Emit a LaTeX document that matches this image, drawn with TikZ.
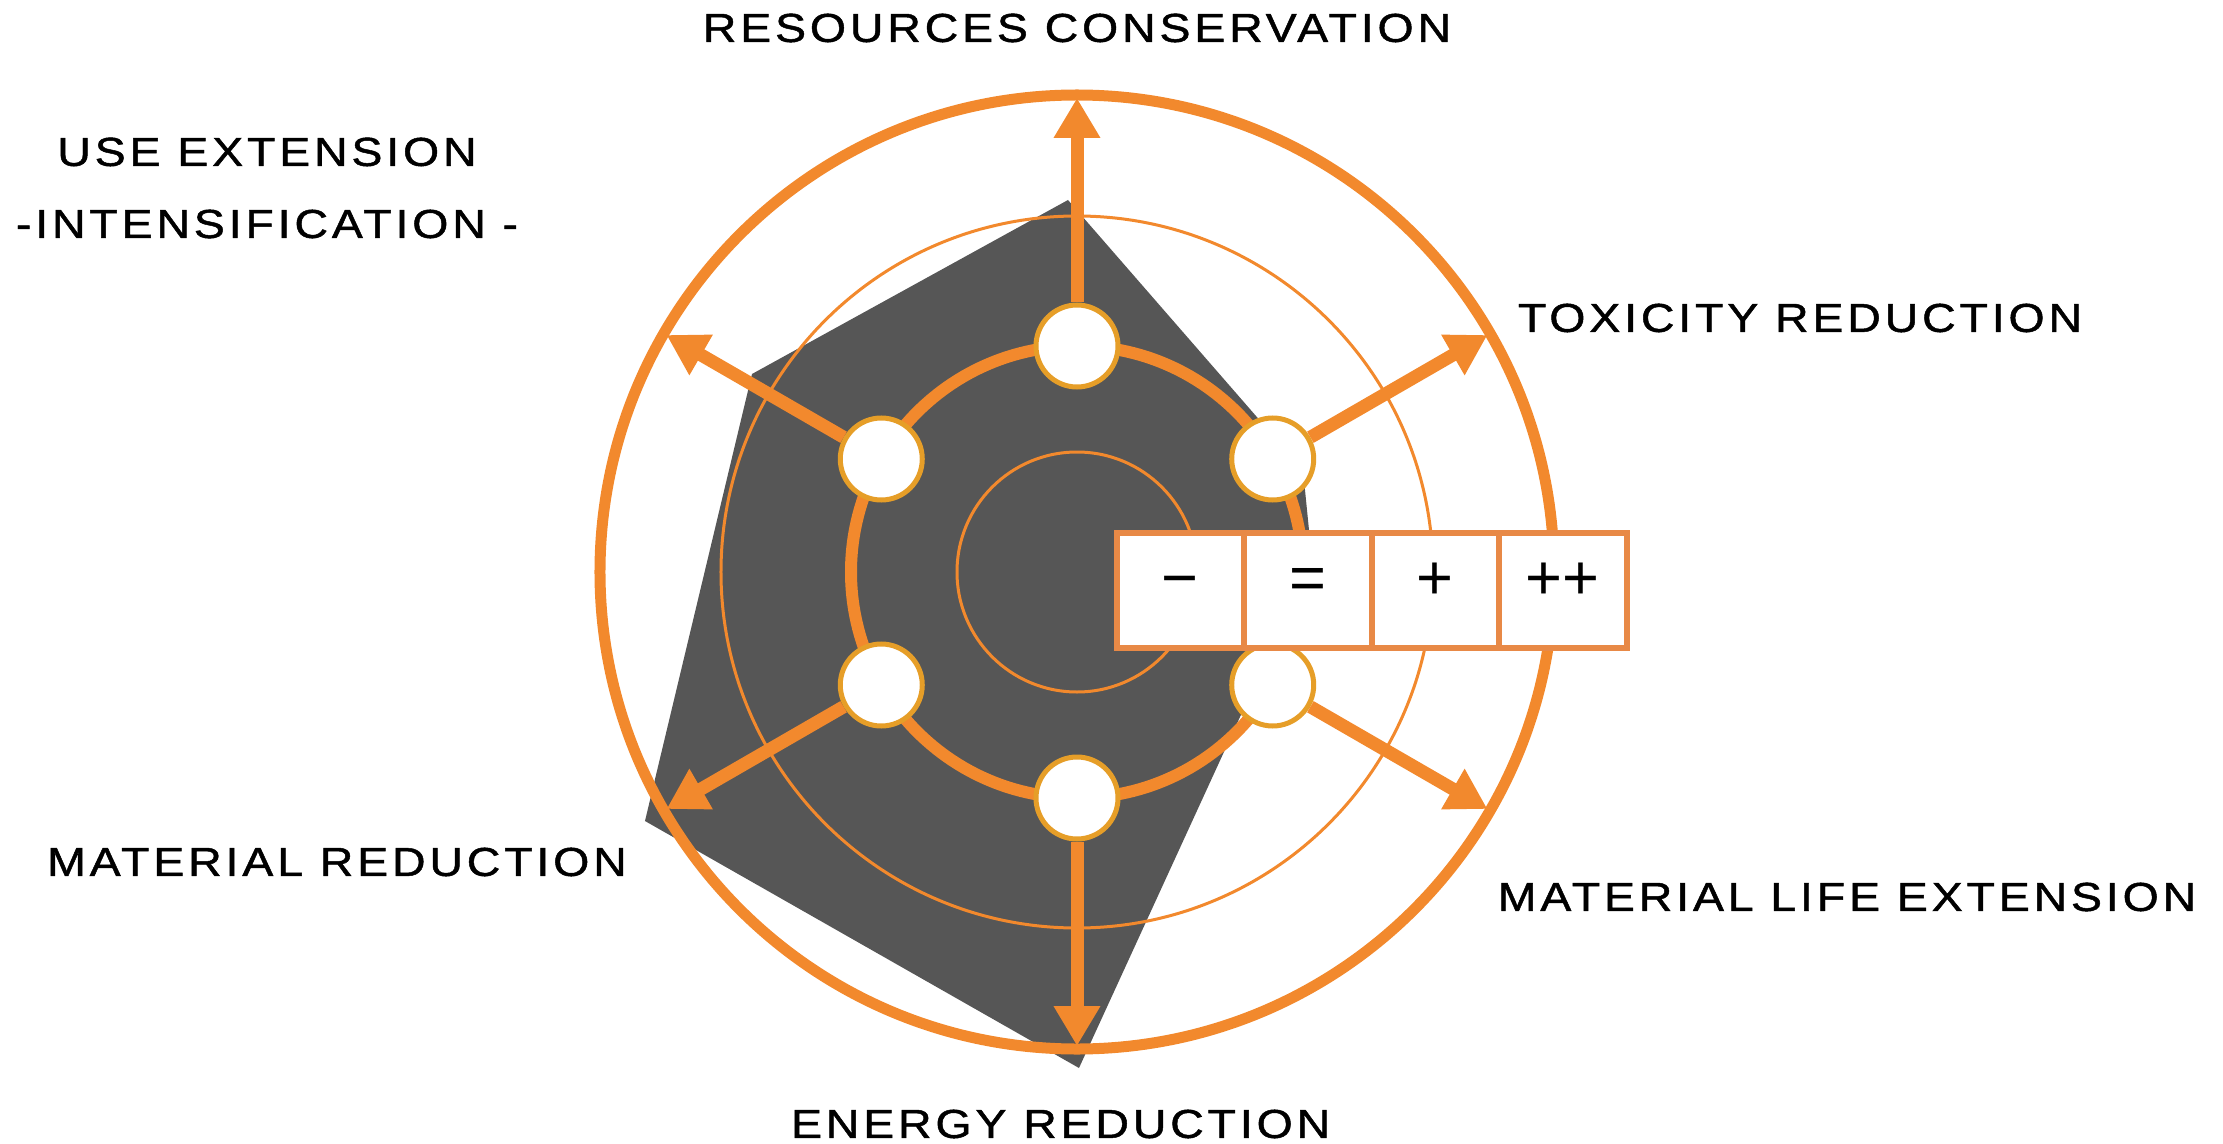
\documentclass[tikz,border=0pt]{standalone}
\usepackage{fontspec}
\setmainfont{Liberation Sans}
\newfontfamily\labelfont[FakeStretch=1.15,LetterSpace=9.5,FakeBold=1.2]{Liberation Sans}
\usetikzlibrary{arrows.meta,positioning}

\definecolor{ringorange}{RGB}{242,137,45}
\definecolor{nodegold}{RGB}{230,158,40}
\definecolor{boxorange}{RGB}{232,137,70}
\definecolor{padgray}{RGB}{86,86,86}

\tikzset{
  ringnode/.style={circle, fill=white, draw=nodegold, line width=0.05cm, minimum size=0.82cm, inner sep=0pt},
  axisarrow/.style={ringorange, line width=0.13cm, -{Triangle[width=0.44cm,length=0.40cm]}},
  caption/.style={font=\labelfont\fontsize{11.5}{20.5}\selectfont, align=center},
  scorecell/.style={draw=boxorange, fill=white, line width=0.06cm, minimum width=1.275cm, minimum height=1.15cm,
    outer sep=0pt, inner sep=0pt, text height=3mm, text depth=1.2mm, font=\fontsize{18}{18}\selectfont}
}

\begin{document}
\begin{tikzpicture}
\useasboundingbox (-10.77,-5.71) rectangle (11.46,5.72);

% profile
\fill[padgray] (-0.09,3.72) -- (2.26,1.02) -- (2.35,0.12) -- (0.02,-4.96) -- (-4.32,-2.49) -- (-3.25,1.98) -- cycle;

% rings
\draw[ringorange, line width=0.03cm] (0,0) circle[radius=1.20cm] (0,0) circle[radius=3.56cm];
\draw[ringorange, line width=0.11cm] (0,0) circle[radius=4.77cm];
\draw[ringorange, line width=0.12cm] (0,0) circle[radius=2.26cm];

% axes
\foreach \ang/\nm in {90/res, 30/tox, -30/life, -90/energy, -150/mat, 150/use} {
    \node[ringnode] (n\nm) at (\ang:2.26) {};
    \coordinate (t\nm) at (\ang:4.74);
    \draw[axisarrow] (n\nm) -- (t\nm);
}

% scale
\node[scorecell] (cminus) at (1.0325,-0.18) {−};
\node[scorecell, right=0pt of cminus] (ceq) {=};
\node[scorecell, right=0pt of ceq] (cplus) {+};
\node[scorecell, right=0pt of cplus] (cplusplus) {++};

% labels
\foreach \pos/\nm/\txt in {
    {(0,5.44)}/res/{RESOURCES CONSERVATION},
    {(-8.10,3.84)}/use/{USE EXTENSION\\-INTENSIFICATION -},
    {(7.23,2.54)}/tox/{TOXICITY REDUCTION},
    {(-7.40,-2.90)}/mat/{MATERIAL REDUCTION},
    {(7.70,-3.25)}/life/{MATERIAL LIFE EXTENSION},
    {(-0.08,-5.52)}/energy/{ENERGY REDUCTION}
} {
    \node[caption] (l\nm) at \pos {\txt};
}
\end{tikzpicture}
\end{document}
